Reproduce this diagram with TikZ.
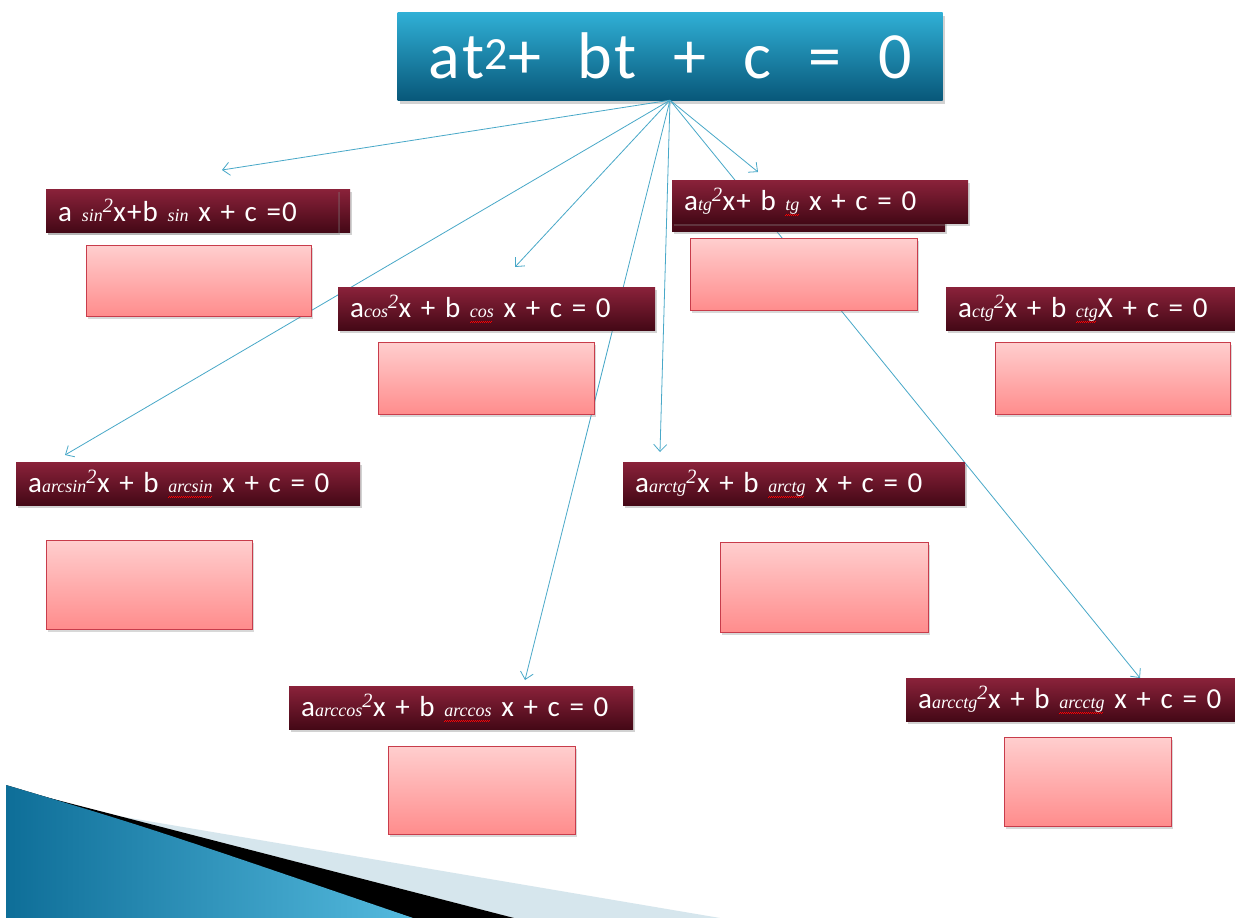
\documentclass[tikz,border=0pt]{standalone}
\usepackage{fontspec}
\setmainfont{Carlito}[LetterSpace=4, WordSpace=1.9]
\newfontfamily\titlefont{Carlito}[LetterSpace=4, WordSpace=2.1]
\newfontfamily\fnfont{Liberation Serif}
\usetikzlibrary{arrows.meta,shadows}

\definecolor{titletop}{RGB}{48,176,214}
\definecolor{titlebot}{RGB}{8,88,122}
\definecolor{eqtop}{RGB}{138,34,58}
\definecolor{eqbot}{RGB}{68,8,22}
\definecolor{blanktop}{RGB}{255,206,206}
\definecolor{blankbot}{RGB}{255,140,140}
\definecolor{blankline}{RGB}{200,60,75}
\definecolor{linkblue}{RGB}{72,168,200}
\definecolor{swooshdark}{RGB}{14,110,152}
\definecolor{swooshlight}{RGB}{84,186,222}
\definecolor{swooshpale}{RGB}{214,230,237}

\newcommand{\fn}[1]{{\fnfont\itshape\fontsize{18}{18}\selectfont #1}}
% function name with the red spell-check wave under it
\newcommand{\fnu}[1]{\setbox0\hbox{\fn{#1}}\rlap{\color{red}\leaders\hbox{\rule[-5pt]{1pt}{0.7pt}\rule[-4pt]{1pt}{0.7pt}}\hskip\wd0}\box0\relax}
\newcommand{\sqr}{\textsuperscript{\fnfont\itshape 2}}

\begin{document}
\begin{tikzpicture}[x=1pt, y=-1pt, >={Straight Barb[length=7pt,width=13pt]}]
        \tikzset{title/.style={rectangle, text=white, top color=titletop, bottom color=titlebot, minimum width=545pt, minimum height=88pt, font=\titlefont\fontsize{66}{68}\selectfont, drop shadow={opacity=0.35, shadow xshift=2pt, shadow yshift=-4pt}},
            eqbox/.style={rectangle, anchor=north west, text=white, top color=eqtop, bottom color=eqbot, text width=#1pt, inner xsep=12pt, inner ysep=0pt, minimum height=43pt, align=left, font=\fontsize{29}{31}\selectfont, drop shadow={opacity=0.35, shadow xshift=2pt, shadow yshift=-3pt}},
            blank/.style 2 args={rectangle, anchor=north west, draw=blankline, line width=0.8pt, top color=blanktop, bottom color=blankbot, minimum width=#1pt, minimum height=#2pt, drop shadow={opacity=0.3, shadow xshift=2pt, shadow yshift=-3pt}},
            link/.style={->, draw=linkblue, line width=0.8pt}}
        \useasboundingbox[fill=white] (0,0) rectangle (1235,918);
        % corner swoosh
        \fill[swooshpale] (118,816) -- (720,918) -- (514,918) -- cycle;
        \fill[black] (30,793) -- (514,918) -- (413,918) -- cycle;
        \fill[left color=swooshdark, right color=swooshlight] (6,785) .. controls (150,828) .. (413,918) -- (6,918) -- cycle;
        \node[title] (top) at (670,56) {at\textsuperscript{2}+ bt + c = 0};
        \coordinate (sinTip) at (222,170);
        \coordinate (arcsinTip) at (65,455);
        \coordinate (cosTip) at (515,267);
        \coordinate (arccosTip) at (525,680);
        \coordinate (arctgTip) at (660,452);
        \coordinate (tgTip) at (758,172);
        \coordinate (arcctgTip) at (1140,678);
        \draw[link] (top.south) -- (sinTip);
        \draw[link] (top.south) -- (arcsinTip);
        \draw[link] (top.south) -- (cosTip);
        \draw[link] (top.south) -- (arccosTip);
        \draw[link] (top.south) -- (arctgTip);
        \draw[link] (top.south) -- (tgTip);
        \draw[link] (top.south) -- (arcctgTip);
        % boxes lying under the sin and tg boxes
        \node[eqbox=280] (sinBack) at (46,189) {};
        \node[eqbox=249] (tgBack) at (672,188) {};
        \node[eqbox=268] (sin) at (46,189) {a \fn{sin}\sqr x+b \fn{sin} x + c =0};
        \node[eqbox=293] (cos) at (338,287) {a\fn{cos}\sqr x + b \fnu{cos} x + c = 0};
        \node[eqbox=272] (tg) at (672,180) {a\fn{tg}\sqr x+ b \fnu{tg} x + c = 0};
        \node[eqbox=265] (ctg) at (946,287) {a\fn{ctg}\sqr x + b \fnu{ctg}X + c = 0};
        \node[eqbox=320] (arcsin) at (16,462) {a\fn{arcsin}\sqr x + b \fnu{arcsin} x + c = 0};
        \node[eqbox=318] (arctg) at (623,462) {a\fn{arctg}\sqr x + b \fnu{arctg} x + c = 0};
        \node[eqbox=320] (arccos) at (289,686) {a\fn{arccos}\sqr x + b \fnu{arccos} x + c = 0};
        \node[eqbox=305] (arcctg) at (906,678) {a\fn{arcctg}\sqr x + b \fnu{arcctg} x + c = 0};
        \node[blank={225}{71}] (sinAns) at (86,245) {};
        \node[blank={216}{72}] (cosAns) at (378,342) {};
        \node[blank={227}{72}] (tgAns) at (690,238) {};
        \node[blank={235}{72}] (ctgAns) at (995,342) {};
        \node[blank={206}{89}] (arcsinAns) at (46,540) {};
        \node[blank={208}{90}] (arctgAns) at (720,542) {};
        \node[blank={187}{88}] (arccosAns) at (388,746) {};
        \node[blank={167}{89}] (arcctgAns) at (1004,737) {};
    \end{tikzpicture}
\end{document}
